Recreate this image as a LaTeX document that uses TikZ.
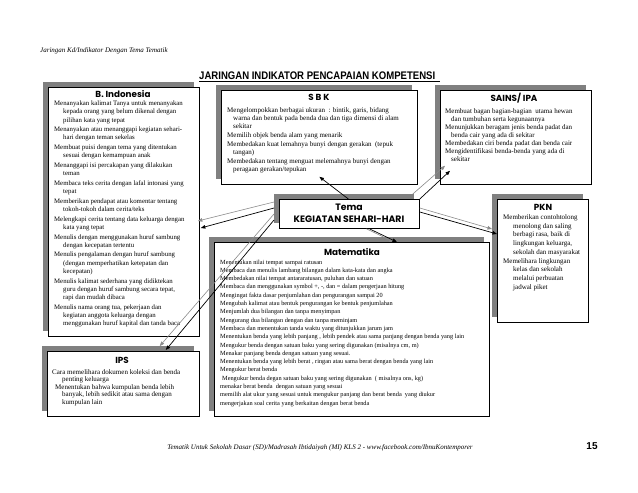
\documentclass[tikz,border=0pt]{standalone}
\usepackage{fontspec}
\setmainfont{Liberation Serif}
\newfontfamily\ttlfont{Poppins}
\newfontfamily\hdfont{Liberation Sans}
\usetikzlibrary{arrows.meta,shadows}
\definecolor{shd}{RGB}{128,128,128}
\definecolor{lgray}{RGB}{140,140,140}
\newcommand\myind{\hspace*{9pt}}
\tikzset{
  box/.style={draw=black, line width=0.8pt, fill=white, anchor=north west, inner sep=0pt,
    drop shadow={shadow xshift=-5pt, shadow yshift=5pt, opacity=1, fill=shd}},
  ttl/.style={font=\ttlfont\bfseries\fontsize{8.8}{11}\selectfont, inner sep=0pt, align=center},
  body/.style={font=\fontsize{7}{8.3}\selectfont, align=left, anchor=north west, inner sep=0pt},
  garr/.style={draw=lgray, line width=0.6pt, -{Triangle[length=4.5pt,width=3.5pt]}},
  barr/.style={draw=black, line width=0.7pt, -{Triangle[length=4.5pt,width=3.5pt]}},
}
\begin{document}
\begin{tikzpicture}[x=1pt,y=-1pt]
\useasboundingbox (0,0) rectangle (638,493);
\fill[white] (0,0) rectangle (638,493);

% header
\node[font=\itshape\fontsize{7}{8}\selectfont, anchor=base west, inner sep=0pt] (hdr) at (40,52) {Jaringan Kd/Indikator Dengan Tema Tematik};
\node[font=\hdfont\bfseries\fontsize{11}{12}\selectfont, anchor=base west, inner sep=0pt] (title) at (199,79)
  {\scalebox{0.87}[1]{JARINGAN INDIKATOR PENCAPAIAN KOMPETENSI}};
\coordinate (ulend) at (440,81.5);
\draw[line width=0.8pt] (title.base west |- ulend) -- (ulend);

% boxes
\node[box, minimum width=151pt, minimum height=249pt] (bind) at (48,87) {};
\node[box, minimum width=196pt, minimum height=94pt] (sbk) at (221,90) {};
\node[box, minimum width=151pt, minimum height=94pt] (sains) at (440,90) {};
\node[box, minimum width=140pt, minimum height=29pt] (tema) at (279,199) {};
\node[box, minimum width=91pt, minimum height=123pt] (pkn) at (497,199) {};
\node[box, minimum width=275pt, minimum height=174pt] (mat) at (214,242) {};
\node[box, minimum width=152pt, minimum height=65pt] (ips) at (47,351) {};

% titles
\node[ttl] (tbind) at (123,94) {B. Indonesia};
\node[ttl] (tsbk) at (319,97) {S B K};
\node[ttl] (tsains) at (514,98) {SAINS/ IPA};
\node[ttl, font=\ttlfont\bfseries\fontsize{9.3}{12.5}\selectfont] (ttema) at (349,213.5) {Tema\\KEGIATAN SEHARI-HARI};
\node[ttl] (tpkn) at (543,207) {PKN};
\node[ttl] (tmat) at (352,252) {Matematika};
\node[ttl] (tips) at (122,360) {IPS};

% body texts
\node[body, font=\fontsize{6.8}{8.3}\selectfont] (xbind) at (54,100.5) {%
Menanyakan kalimat Tanya untuk menanyakan\\
\myind kepada orang yang belum dikenal dengan\\
\myind pilihan kata yang tepat\\[1.3pt]
Menanyakan atau menanggapi kegiatan sehari-\\
\myind hari dengan teman sekelas\\[1.3pt]
Membuat puisi dengan tema yang ditentukan\\
\myind sesuai dengan kemampuan anak\\[1.3pt]
Menanggapi isi percakapan yang dilakukan\\
\myind teman\\[1.3pt]
Membaca teks cerita dengan lafal intonasi yang\\
\myind tepat\\[1.3pt]
Memberikan pendapat atau komentar tentang\\
\myind tokoh-tokoh dalam cerita/teks\\[1.3pt]
Melengkapi cerita tentang data keluarga dengan\\
\myind kata yang tepat\\[1.3pt]
Menulis dengan menggunakan huruf sambung\\
\myind dengan kecepatan tertentu\\[1.3pt]
Menulis pengalaman dengan huruf sambung\\
\myind (dengan memperhatikan ketepatan dan\\
\myind kecepatan)\\[1.3pt]
Menulis kalimat sederhana yang didiktekan\\
\myind guru dengan huruf sambung secara tepat,\\
\myind rapi dan mudah dibaca\\[1.3pt]
Menulis nama orang tua, pekerjaan dan\\
\myind kegiatan anggota keluarga dengan\\
\myind menggunakan huruf kapital dan tanda baca};

\node[body, font=\fontsize{7}{8}\selectfont] (xsbk) at (227,107.5) {%
Mengelompokkan berbagai ukuran \ : bintik, garis, bidang\\
\hspace*{6pt}warna dan bentuk pada benda dua dan tiga dimensi di alam\\
\hspace*{6pt}sekitar\\[1pt]
Memilih objek benda alam yang menarik\\[1pt]
Membedakan kuat lemahnya bunyi dengan gerakan \ (tepuk\\
\hspace*{6pt}tangan)\\[1pt]
Membedakan tentang menguat melemahnya bunyi dengan\\
\hspace*{6pt}peragaan gerakan/tepukan};

\node[body, font=\fontsize{7}{8}\selectfont] (xsains) at (445,108) {%
Membuat bagan bagian-bagian \ utama hewan\\
\hspace*{6pt}dan tumbuhan serta kegunaannya\\
Menunjukkan beragam jenis benda padat dan\\
\hspace*{6pt}benda cair yang ada di sekitar\\
Membedakan ciri benda padat dan benda cair\\
Mengidentifikasi benda-benda yang ada di\\
\hspace*{6pt}sekitar};

\node[body, font=\fontsize{7}{8.7}\selectfont] (xpkn) at (503,214.5) {%
Memberikan contohtolong\\
\hspace*{10pt}menolong dan saling\\
\hspace*{10pt}berbagi rasa, baik di\\
\hspace*{10pt}lingkungan keluarga,\\
\hspace*{10pt}sekolah dan masyarakat\\
Memelihara lingkungan\\
\hspace*{10pt}kelas dan sekolah\\
\hspace*{10pt}melalui perbuatan\\
\hspace*{10pt}jadwal piket};

\node[body, font=\fontsize{6.3}{8.3}\selectfont] (xmat) at (220,259.5) {%
Menentukan nilai tempat sampai ratusan\\
Membaca dan menulis lambang bilangan dalam kata-kata dan angka\\
Membedakan nilai tempat antararatusan, puluhan dan satuan\\
Membaca dan menggunakan symbol +, -, dan = dalam pengerjaan hitung\\
Mengingat fakta dasar penjumlahan dan pengurangan sampai 20\\
Mengubah kalimat atau bentuk pengurangan ke bentuk penjumlahan\\
Menjumlah dua bilangan dan tanpa menyimpan\\
Mengurang dua bilangan dengan dan tanpa meminjam\\
Membaca dan menentukan tanda waktu yang ditunjukkan jarum jam\\
Menentukan benda yang lebih panjang , lebih pendek atau sama panjang dengan benda yang lain\\
Mengukur benda dengan satuan baku yang sering digunakan (misalnya cm, m)\\
Menakar panjang benda dengan satuan yang sesuai.\\
Menentukan benda yang lebih berat , ringan atau sama berat dengan benda yang lain\\
Mengukur berat benda\\
\hspace*{2pt}Mengukur benda degan satuan baku yang sering digunakan \ ( misalnya ons, kg)\\
menakar berat benda \ dengan satuan yang sesuai\\
memilih alat ukur yang sesuai untuk mengukur panjang dan berat benda \ yang diukur\\
mengerjakan soal cerita yang berkaitan dengan berat benda};

\node[body, font=\fontsize{7}{7.6}\selectfont] (xips) at (52,369) {%
Cara memelihara dokumen koleksi dan benda\\
\hspace*{10pt}penting keluarga\\
\hspace*{3pt}Menentukan bahwa kumpulan benda lebih\\
\hspace*{10pt}banyak, lebih sedikit atau sama dengan\\
\hspace*{10pt}kumpulan lain};

% connectors
\draw[barr] ([xshift=-1pt]tema.north) -- ([yshift=8pt]sbk.south);
\draw[garr] ([xshift=-7pt,yshift=5pt]tema.north east) -- ([xshift=5pt,yshift=19pt]sains.south west);
\draw[barr] (tema.north east) -- ([xshift=10pt,yshift=14pt]sains.south west);
\draw[garr] ([yshift=-9pt]tema.north east) -- ([xshift=-5pt,yshift=-30pt]pkn.north west);
\draw[barr] ([yshift=-13pt]tema.north east) -- ([yshift=-35pt]pkn.north west);
\draw[garr] ([xshift=17pt]tema.south) -- ([xshift=42pt]mat.north);
\draw[barr] ([xshift=20pt]tema.south) -- ([xshift=45pt]mat.north);
\draw[garr] ([xshift=-5pt,yshift=-3pt]tema.north west) -- ([xshift=-2pt,yshift=-134pt]bind.north east);
\draw[barr] ([xshift=-5pt,yshift=-9pt]tema.north west) -- ([xshift=1pt,yshift=-141pt]bind.north east);
\draw[garr] ([xshift=-5pt,yshift=-15pt]tema.north west) -- ([xshift=-40pt,yshift=5pt]ips.north east);
\draw[barr] ([xshift=-5pt,yshift=-21pt]tema.north west) -- ([xshift=-34pt,yshift=1pt]ips.north east);

% footer
\node[font=\itshape\fontsize{7}{8}\selectfont, anchor=base, inner sep=0pt] (foot) at (320,449)
  {Tematik Untuk Sekolah Dasar (SD)/Madrasah Ibtidaiyah (MI) KLS 2 - www.facebook.com/IbnuKontemporer};
\node[font=\hdfont\bfseries\fontsize{10}{12}\selectfont, anchor=base, inner sep=0pt] (pg) at (592,449) {15};
\end{tikzpicture}
\end{document}
